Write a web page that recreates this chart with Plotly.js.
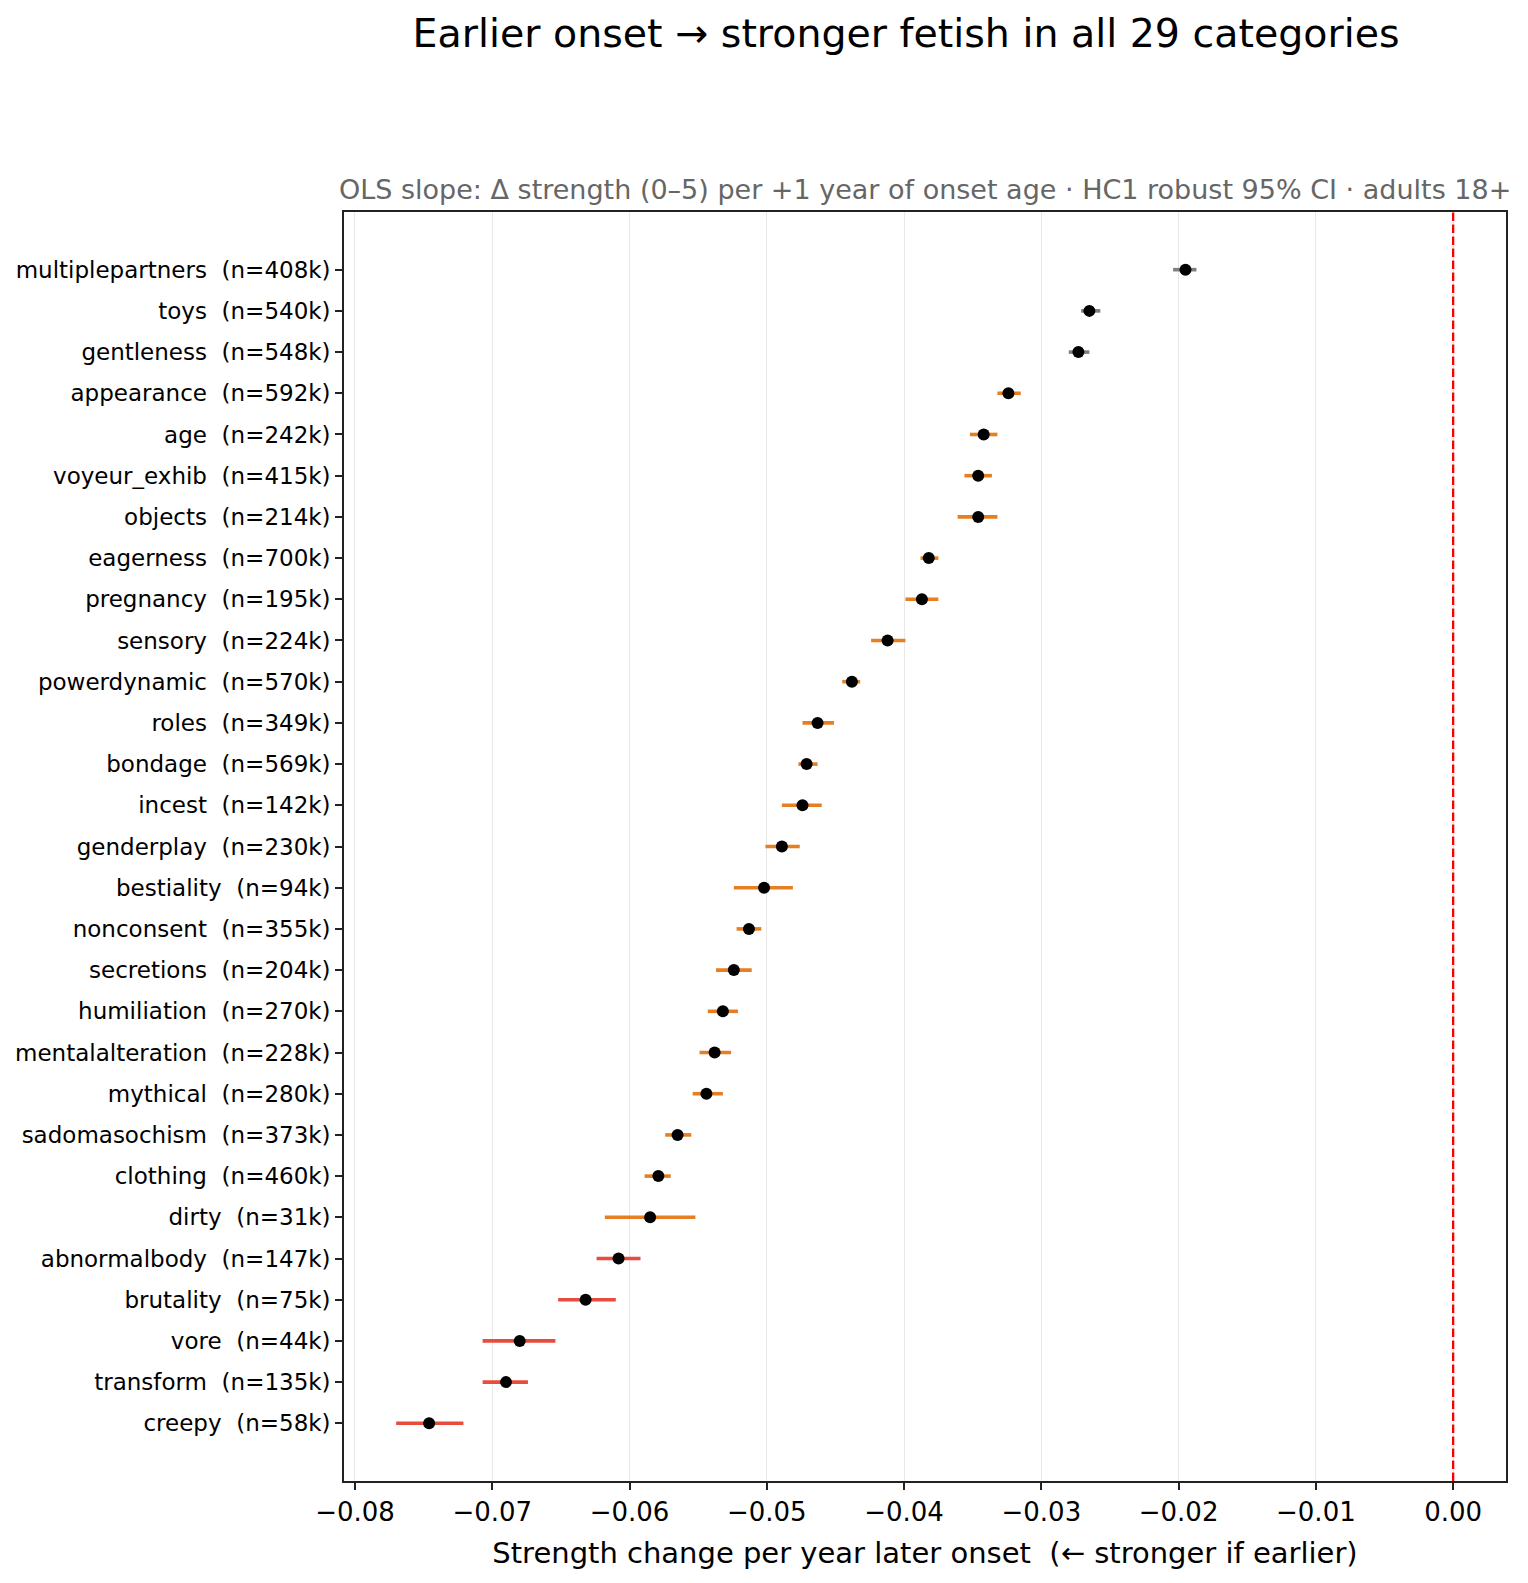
<!DOCTYPE html>
<html>
<head>
<meta charset="utf-8">
<script src="https://cdn.plot.ly/plotly-3.0.1.min.js"></script>
<style>
  html, body { margin: 0; padding: 0; background: #ffffff; }
  #chart { width: 1528px; height: 1583px; }
</style>
</head>
<body>
<div id="chart"></div>
<script>
// Categories, top to bottom
const categories = [
  "multiplepartners", "toys", "gentleness", "appearance", "age", "voyeur_exhib",
  "objects", "eagerness", "pregnancy", "sensory", "powerdynamic", "roles",
  "bondage", "incest", "genderplay", "bestiality", "nonconsent", "secretions",
  "humiliation", "mentalalteration", "mythical", "sadomasochism", "clothing",
  "dirty", "abnormalbody", "brutality", "vore", "transform", "creepy"
];

// Sample sizes (thousands)
const sampleK = [
  408, 540, 548, 592, 242, 415, 214, 700, 195, 224, 570, 349, 569, 142, 230,
  94, 355, 204, 270, 228, 280, 373, 460, 31, 147, 75, 44, 135, 58
];

// OLS slope estimates
const slope = [
  -0.0195, -0.0265, -0.0273, -0.0324, -0.0342, -0.0346, -0.0346, -0.0382,
  -0.0387, -0.0412, -0.0438, -0.0463, -0.0471, -0.0474, -0.0489, -0.0502,
  -0.0513, -0.0524, -0.0532, -0.0538, -0.0544, -0.0565, -0.0579, -0.0585,
  -0.0608, -0.0632, -0.0680, -0.0690, -0.0746
];

// 95% CI bounds (HC1 robust)
const ciLow = [
  -0.0204, -0.0271, -0.0280, -0.0332, -0.0352, -0.0356, -0.0361, -0.0388,
  -0.0399, -0.0424, -0.0445, -0.0474, -0.0477, -0.0489, -0.0501, -0.0524,
  -0.0522, -0.0537, -0.0543, -0.0549, -0.0554, -0.0574, -0.0589, -0.0618,
  -0.0624, -0.0652, -0.0707, -0.0707, -0.0770
];
const ciHigh = [
  -0.0187, -0.0257, -0.0265, -0.0315, -0.0332, -0.0336, -0.0332, -0.0375,
  -0.0375, -0.0399, -0.0432, -0.0451, -0.0463, -0.0460, -0.0476, -0.0481,
  -0.0504, -0.0511, -0.0521, -0.0526, -0.0532, -0.0555, -0.0570, -0.0552,
  -0.0592, -0.0610, -0.0654, -0.0674, -0.0721
];

const xTicks = [-0.08, -0.07, -0.06, -0.05, -0.04, -0.03, -0.02, -0.01, 0.00];

// Colour bands by effect size
const GREY = "#7f7f7f", ORANGE = "#e67e22", RED = "#e74c3c";
function bandColor(v) {
  if (v > -0.03) return GREY;
  if (v > -0.06) return ORANGE;
  return RED;
}

const nCat = categories.length;
const yPos = categories.map((_, i) => nCat - 1 - i);
const tickText = categories.map((c, i) => c + "\u00a0\u00a0(n=" + sampleK[i] + "k)");

// One error-bar trace per colour band
const traces = [];
[GREY, ORANGE, RED].forEach(col => {
  const idx = slope.map((v, i) => i).filter(i => bandColor(slope[i]) === col);
  traces.push({
    type: "scatter",
    mode: "markers",
    x: idx.map(i => slope[i]),
    y: idx.map(i => yPos[i]),
    marker: { size: 1, color: "rgba(0,0,0,0)" },
    error_x: {
      type: "data",
      symmetric: false,
      array: idx.map(i => ciHigh[i] - slope[i]),
      arrayminus: idx.map(i => slope[i] - ciLow[i]),
      color: col,
      thickness: 3.6,
      width: 0
    },
    hoverinfo: "skip",
    showlegend: false
  });
});

// Point estimates
traces.push({
  type: "scatter",
  mode: "markers",
  x: slope,
  y: yPos,
  marker: { size: 12, color: "#000000" },
  showlegend: false,
  hovertemplate: "%{x:.4f}<extra></extra>"
});

const font = "DejaVu Sans, sans-serif";

const layout = {
  width: 1528,
  height: 1583,
  paper_bgcolor: "#ffffff",
  plot_bgcolor: "#ffffff",
  font: { family: font, color: "#000000" },
  margin: { l: 344, r: 22, t: 212, b: 102 },
  title: {
    text: "Earlier onset \u2192 stronger fetish in all 29 categories",
    font: { family: font, size: 39.5, color: "#000000" },
    xref: "container", yref: "container",
    x: 0.593, xanchor: "center",
    y: 1 - 33 / 1583, yanchor: "middle"
  },
  xaxis: {
    range: [-0.0808, 0.00385],
    tickvals: xTicks,
    ticktext: xTicks.map(v => (v < 0 ? "\u2212" : "") + Math.abs(v).toFixed(2)),
    ticks: "outside", ticklen: 7, tickwidth: 1.6, tickcolor: "#222222",
    tickfont: { family: font, size: 26, color: "#000000" },
    showgrid: true, gridcolor: "#e8e8e8", gridwidth: 1.4,
    zeroline: false,
    showline: true, linecolor: "#222222", linewidth: 1.6, mirror: true,
    title: {
      text: "Strength change per year later onset \u00a0(\u2190 stronger if earlier)",
      font: { family: font, size: 29, color: "#000000" },
      standoff: 17
    }
  },
  yaxis: {
    range: [-1.4, nCat - 1 + 1.4],
    tickvals: yPos,
    ticktext: tickText,
    ticks: "outside", ticklen: 7, tickwidth: 1.6, tickcolor: "#222222",
    tickfont: { family: font, size: 23, color: "#000000" },
    showgrid: false, zeroline: false,
    showline: true, linecolor: "#222222", linewidth: 1.6, mirror: true
  },
  shapes: [{
    type: "line", xref: "x", yref: "paper",
    x0: 0, x1: 0, y0: 0, y1: 1,
    line: { color: "#ff0000", width: 2.3, dash: "8.5px,3.5px" },
    layer: "above"
  }],
  annotations: [{
    text: "OLS slope: \u0394 strength (0\u20135) per +1 year of onset age \u00b7 HC1 robust 95% CI \u00b7 adults 18+",
    xref: "paper", yref: "paper",
    x: 0.5, y: 1, xanchor: "center", yanchor: "bottom",
    yshift: 5,
    showarrow: false,
    font: { family: font, size: 27, color: "#666666" }
  }]
};

Plotly.newPlot("chart", traces, layout, { displayModeBar: false, responsive: false });
</script>
</body>
</html>
